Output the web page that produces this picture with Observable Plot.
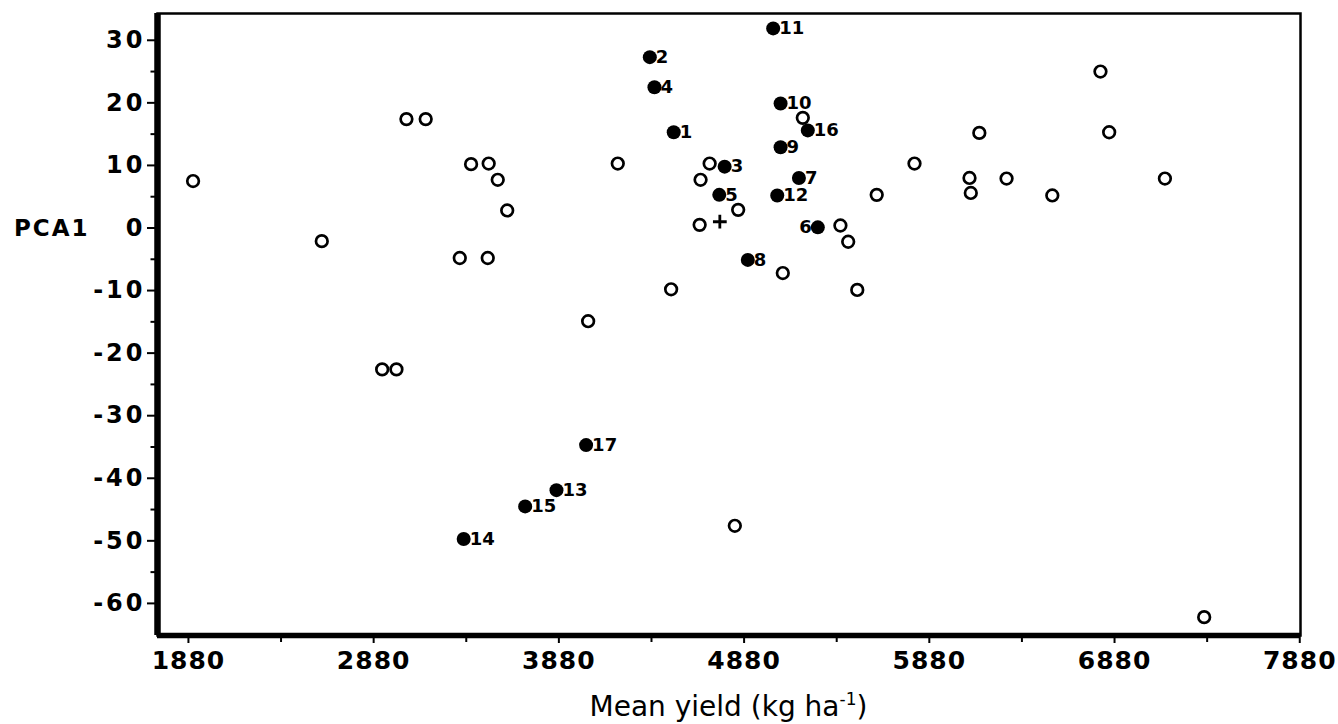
<!DOCTYPE html>
<html><head><meta charset="utf-8">
<script src="https://cdn.jsdelivr.net/npm/d3@7"></script>
<script src="https://cdn.jsdelivr.net/npm/@observablehq/plot@0.6"></script>
<style>
body{margin:0;background:#fff;}
svg{display:block;}
</style></head><body><div id="chart"></div>
<script>
// Open circles (other entries)
const openYield = [1905, 3057, 3161, 3406, 3501, 3550, 3601, 2600, 3345, 3496, 5197, 4198, 4694, 4645, 5596, 4848, 4640, 5400, 5442, 5089, 4486, 5491, 6804, 6150, 6851, 5800, 6097, 6104, 6297, 6544, 7152, 4038, 2926, 3003, 4830, 7364];
const openPCA1  = [7.5, 17.4, 17.4, 10.2, 10.3, 7.7, 2.8, -2.1, -4.8, -4.8, 17.6, 10.3, 10.3, 7.7, 5.3, 2.9, 0.5, 0.4, -2.2, -7.2, -9.8, -9.9, 25.0, 15.2, 15.3, 10.3, 8.0, 5.6, 7.9, 5.2, 7.9, -14.9, -22.6, -22.6, -47.6, -62.2];
// Filled circles (numbered entries)
const cultivarId    = [1, 2, 3, 4, 5, 6, 7, 8, 9, 10, 11, 12, 13, 14, 15, 16, 17];
const cultivarYield = [4500, 4371, 4775, 4396, 4746, 5278, 5176, 4900, 5077, 5077, 5037, 5059, 3867, 3366, 3698, 5224, 4027];
const cultivarPCA1  = [15.3, 27.3, 9.8, 22.5, 5.3, 0.1, 8.0, -5.1, 12.9, 19.9, 31.9, 5.2, -41.9, -49.7, -44.5, 15.6, -34.7];
// Mean (+)
const meanYield = [4749];
const meanPCA1 = [1.0];
// Axes
const xDomain = [1713, 7884];
const yDomain = [-65.13, 34.28];
const xTicks = [1880, 2880, 3880, 4880, 5880, 6880, 7880];
const xMinorTicks = [2380, 3380, 4380, 5380, 6380, 7380];
const yTicks = [30, 20, 10, 0, -10, -20, -30, -40, -50, -60];
const yMinorTicks = [25, 15, 5, -5, -15, -25, -35, -45, -55];
const labelLeftIds = [6];

const openData = openYield.map((x, i) => ({x, y: openPCA1[i]}));
const filledData = cultivarId.map((id, i) => ({id, x: cultivarYield[i], y: cultivarPCA1[i]}));
const meanData = meanYield.map((x, i) => ({x, y: meanPCA1[i]}));

const chart = Plot.plot({
  width: 1338, height: 724,
  marginLeft: 157, marginRight: 38, marginTop: 13, marginBottom: 89,
  x: {domain: xDomain},
  y: {domain: yDomain},
  style: {fontFamily: "DejaVu Sans", background: "white", color: "black"},
  marks: [
    Plot.frame({stroke: "black", strokeWidth: 2.5}),
    Plot.ruleX([xDomain[0]], {stroke: "black", strokeWidth: 6.5}),
    Plot.ruleY([yDomain[0]], {stroke: "black", strokeWidth: 5.5}),
    Plot.axisY({ticks: yTicks, tickSize: 10, tickPadding: 2, strokeWidth: 2, tickFormat: d => String(d), fontSize: 24, fontWeight: "bold", label: null}),
    Plot.axisY({ticks: yMinorTicks, tickSize: 6.5, strokeWidth: 2, fill: "none", label: null}),
    Plot.axisX({ticks: xTicks, tickSize: 8, tickPadding: 8, strokeWidth: 2, tickFormat: d => String(d), fontSize: 25, fontWeight: "bold", label: null}),
    Plot.axisX({ticks: xMinorTicks, tickSize: 7, strokeWidth: 2, fill: "none", label: null}),
    Plot.dot(openData, {x: "x", y: "y", r: 5.8, stroke: "black", strokeWidth: 2.7, fill: "white"}),
    Plot.dot(filledData, {x: "x", y: "y", r: 7, fill: "black"}),
    Plot.dot(meanData, {x: "x", y: "y", symbol: "plus", r: 4.5, stroke: "black", strokeWidth: 2.8}),
    Plot.text(filledData.filter(d => !labelLeftIds.includes(d.id)), {x: "x", y: "y", text: d => String(d.id), textAnchor: "start", dx: 6, fontSize: 18, fontWeight: "bold", fill: "black"}),
    Plot.text(filledData.filter(d => labelLeftIds.includes(d.id)), {x: "x", y: "y", text: d => String(d.id), textAnchor: "end", dx: -6, fontSize: 18, fontWeight: "bold", fill: "black"})
  ]
});

const svg = d3.select(chart);
svg.selectAll('g[aria-label="y-axis tick label"] text').style("letter-spacing", "3px");
svg.selectAll('g[aria-label="x-axis tick label"] text').style("letter-spacing", "1px");
const xs = chart.scale("x"), ys = chart.scale("y");
const xMid = (xs.apply(xDomain[0]) + xs.apply(xDomain[1])) / 2;
const title = svg.append("text")
  .attr("x", xMid).attr("y", 716)
  .attr("text-anchor", "middle")
  .attr("font-family", "DejaVu Sans").attr("font-size", 28).attr("fill", "black");
title.append("tspan").text("Mean yield (kg ha");
title.append("tspan").attr("dy", -11).attr("font-size", 17).text("-1");
title.append("tspan").attr("dy", 11).text(")");
svg.append("text")
  .attr("x", 14).attr("y", ys.apply(0))
  .attr("dy", "0.35em")
  .attr("text-anchor", "start")
  .attr("font-family", "DejaVu Sans").attr("font-size", 23).attr("font-weight", "bold")
  .style("letter-spacing", "2px").attr("fill", "black")
  .text("PCA1");

document.getElementById("chart").appendChild(chart);
</script></body></html>
